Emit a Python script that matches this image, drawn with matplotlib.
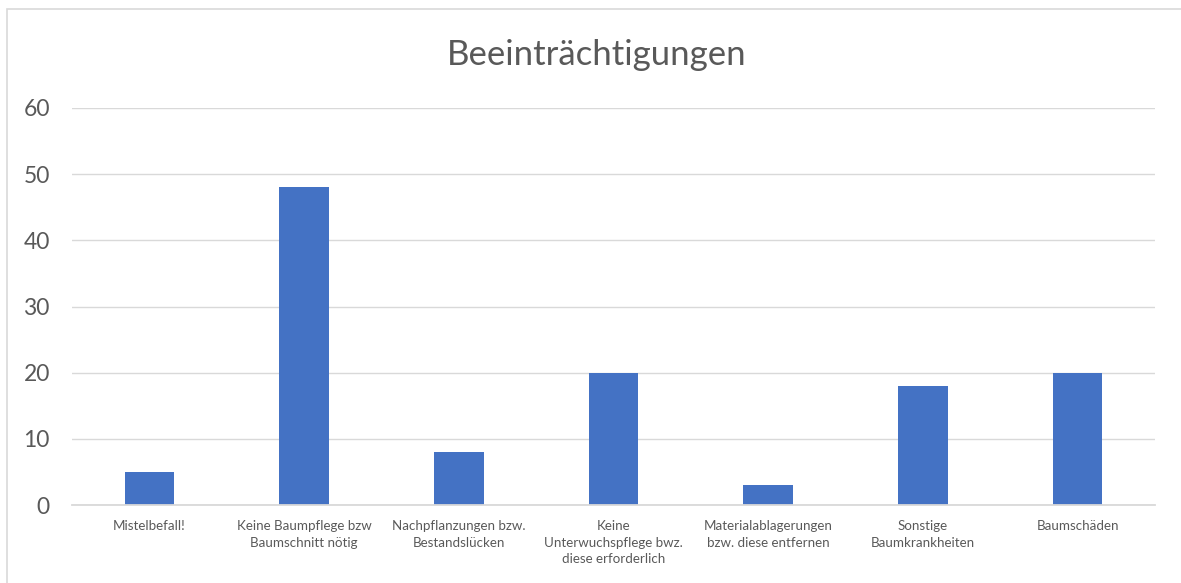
import matplotlib.pyplot as plt
from matplotlib.patches import Rectangle

categories = [
    "Mistelbefall!",
    "Keine Baumpflege bzw\nBaumschnitt nötig",
    "Nachpflanzungen bzw.\nBestandslücken",
    "Keine\nUnterwuchspflege bwz.\ndiese erforderlich",
    "Materialablagerungen\nbzw. diese entfernen",
    "Sonstige\nBaumkrankheiten",
    "Baumschäden",
]
values = [5, 48, 8, 20, 3, 18, 20]
yticks = [0, 10, 20, 30, 40, 50, 60]

plt.rcParams['font.family'] = ['Lato', 'DejaVu Sans']

W, H = 1181, 583
fig = plt.figure(figsize=(W / 100, H / 100), dpi=100)
fig.patch.set_facecolor('white')

# chart area border (only top/left visible in the crop)
fig.patches.append(Rectangle((7 / W, -0.05), 1.1, 1 - 9 / H + 0.05,
                             transform=fig.transFigure, fill=False,
                             edgecolor='#d9d9d9', linewidth=1.2))

ax = fig.add_axes([72 / W, 78 / H, (1155 - 72) / W, (505 - 108) / H])
x = range(len(categories))
ax.bar(x, values, width=0.32, color='#4472c4', zorder=3)

ax.set_xlim(-0.5, len(categories) - 0.5)
ax.set_ylim(0, 60)
ax.set_yticks(yticks)
ax.set_yticklabels([str(v) for v in yticks], fontsize=16.5, color='#595959')
ax.set_xticks(list(x))
ax.set_xticklabels(categories, fontsize=9.6, color='#595959', linespacing=1.45)
ax.tick_params(axis='both', length=0)
ax.tick_params(axis='y', pad=16)
ax.tick_params(axis='x', pad=11)

ax.grid(axis='y', color='#d9d9d9', linewidth=1, zorder=0)
for s in ['top', 'right', 'left']:
    ax.spines[s].set_visible(False)
ax.spines['bottom'].set_color('#d9d9d9')
ax.spines['bottom'].set_linewidth(1.3)
ax.spines['bottom'].set_zorder(4)

fig.text(597 / W, 1 - 55 / H, "Beeinträchtigungen", ha='center', va='center',
         fontsize=25, color='#595959')

fig.savefig('out.png', dpi=100)
